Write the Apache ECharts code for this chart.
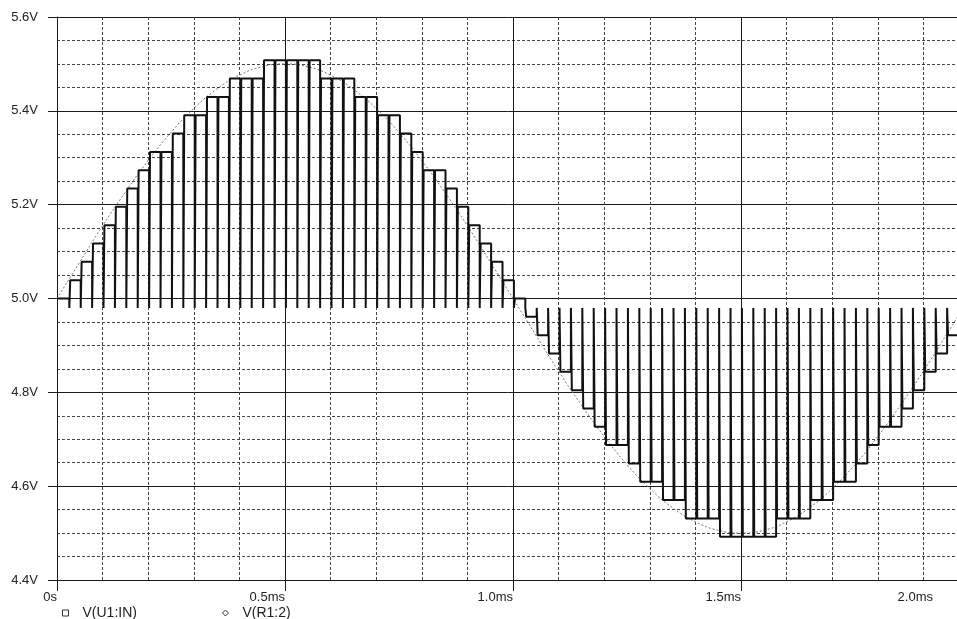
<!DOCTYPE html>
<html>
<head>
<meta charset="utf-8">
<script src="https://cdn.jsdelivr.net/npm/echarts@6/dist/echarts.min.js"></script>
<style>
  html, body { margin: 0; padding: 0; background: #fff; }
  #chart { width: 957px; height: 619px; }
</style>
</head>
<body>
<div id="chart"></div>
<script>
// sine input, read every 0.05ms (ms, V)
var sineTimes = [0, 0.05, 0.1, 0.15, 0.2, 0.25, 0.3, 0.35, 0.4, 0.45, 0.5, 0.55, 0.6, 0.65, 0.7, 0.75, 0.8, 0.85, 0.9, 0.95,
  1.0, 1.05, 1.1, 1.15, 1.2, 1.25, 1.3, 1.35, 1.4, 1.45, 1.5, 1.55, 1.6, 1.65, 1.7, 1.75, 1.8, 1.85, 1.9, 1.95, 2.0];
var sineValues = [5.000, 5.078, 5.155, 5.227, 5.294, 5.354, 5.405, 5.446, 5.476, 5.494, 5.500, 5.494, 5.476, 5.446, 5.405, 5.354, 5.294, 5.227, 5.155, 5.078,
  5.000, 4.922, 4.845, 4.773, 4.706, 4.646, 4.595, 4.554, 4.524, 4.506, 4.500, 4.506, 4.524, 4.554, 4.595, 4.646, 4.706, 4.773, 4.845, 4.922, 5.000];

// held output level after each sample (one per 0.025ms sample)
var stepLevels = [
  5.0000, 5.0391, 5.0781, 5.1172, 5.1563, 5.1953, 5.2344, 5.2734, 5.3125, 5.3125,
  5.3516, 5.3906, 5.3906, 5.4297, 5.4297, 5.4688, 5.4688, 5.4688, 5.5078, 5.5078,
  5.5078, 5.5078, 5.5078, 5.4688, 5.4688, 5.4688, 5.4297, 5.4297, 5.3906, 5.3906,
  5.3516, 5.3125, 5.2734, 5.2734, 5.2344, 5.1953, 5.1563, 5.1172, 5.0781, 5.0391,
  5.0000, 4.9609, 4.9219, 4.8828, 4.8438, 4.8047, 4.7656, 4.7266, 4.6875, 4.6875,
  4.6484, 4.6094, 4.6094, 4.5703, 4.5703, 4.5313, 4.5313, 4.5313, 4.4922, 4.4922,
  4.4922, 4.4922, 4.4922, 4.5313, 4.5313, 4.5313, 4.5703, 4.5703, 4.6094, 4.6094,
  4.6484, 4.6875, 4.7266, 4.7266, 4.7656, 4.8047, 4.8438, 4.8828, 4.9219, 4.9609
];
var samplePeriod = 0.025;  // ms
var sampleDelay = 0.002;   // ms, spike comes a bit after the clock
var spikeWidth = 0.002;    // ms
var resetLevel = 4.98;     // V, level every sample spike goes to

var xTicks = [0, 0.5, 1.0, 1.5, 2.0];
var xTickLabels = ['0s', '0.5ms', '1.0ms', '1.5ms', '2.0ms'];

var sineData = sineTimes.map(function (t, i) { return [t, sineValues[i]]; });

var stairData = [[0, stepLevels[0]]];
for (var k = 1; k < stepLevels.length; k++) {
  var t = k * samplePeriod + sampleDelay;
  stairData.push([t, stepLevels[k - 1]]);
  stairData.push([t, resetLevel]);
  stairData.push([t + spikeWidth, resetLevel]);
  stairData.push([t + spikeWidth, stepLevels[k]]);
}
stairData.push([2.0, stepLevels[stepLevels.length - 1]]);

var font = '"Liberation Sans", Arial, sans-serif';
var chart = echarts.init(document.getElementById('chart'));
chart.setOption({
  animation: false,
  backgroundColor: '#fff',
  textStyle: { fontFamily: font },
  // the plot runs past the right edge: 2.0ms sits just outside the picture
  grid: { left: 57, top: 17, width: 912, height: 563, containLabel: false, outerBoundsMode: 'none' },
  legend: {
    left: 62,
    top: 606,
    padding: 0,
    itemWidth: 6,
    itemHeight: 6,
    itemGap: 85,
    selectedMode: false,
    textStyle: { fontSize: 14, color: '#222', fontFamily: font, padding: [0, 0, 0, 9] },
    itemStyle: { color: '#fff', borderColor: '#333', borderWidth: 1 },
    data: [
      { name: 'V(U1:IN)', icon: 'rect' },
      { name: 'V(R1:2)', icon: 'diamond' }
    ]
  },
  xAxis: {
    type: 'value',
    min: 0,
    max: 2.0,
    interval: 0.5,
    axisLine: { show: true, onZero: false, lineStyle: { color: '#1a1a1a', width: 1 } },
    axisTick: { show: true, inside: false, length: 11, lineStyle: { color: '#1a1a1a' } },
    axisLabel: {
      margin: 11,
      align: 'right',
      verticalAlign: 'top',
      fontSize: 13,
      color: '#222',
      fontFamily: font,
      formatter: function (v) {
        var i = xTicks.indexOf(Math.round(v * 10) / 10);
        var s = i >= 0 ? xTickLabels[i] : '';
        return v >= 2 ? '{edge|' + s + '}' : s;
      },
      rich: { edge: { fontSize: 13, color: '#222', fontFamily: font, padding: [0, 36, 0, 0] } }
    },
    splitLine: { show: true, lineStyle: { color: '#1a1a1a', width: 1 } },
    minorTick: { show: false, splitNumber: 5 },
    minorSplitLine: { show: true, lineStyle: { color: '#444', width: 1, type: [3, 2] } }
  },
  yAxis: {
    type: 'value',
    min: 4.4,
    max: 5.6,
    interval: 0.2,
    axisLine: { show: true, onZero: false, lineStyle: { color: '#1a1a1a', width: 1 } },
    axisTick: { show: true, inside: false, length: 9, lineStyle: { color: '#1a1a1a' } },
    axisLabel: {
      margin: 19,
      fontSize: 13,
      color: '#222',
      fontFamily: font,
      formatter: function (v) { return v.toFixed(1) + 'V'; }
    },
    splitLine: { show: true, lineStyle: { color: '#1a1a1a', width: 1 } },
    minorTick: { show: false, splitNumber: 4 },
    minorSplitLine: { show: true, lineStyle: { color: '#444', width: 1, type: [3, 2] } }
  },
  series: [
    {
      name: 'V(U1:IN)',
      type: 'line',
      data: sineData,
      smooth: true,
      showSymbol: false,
      lineStyle: { color: '#777', width: 1, type: [2, 2] },
      itemStyle: { color: '#333' },
      z: 3
    },
    {
      name: 'V(R1:2)',
      type: 'line',
      data: stairData,
      showSymbol: false,
      lineStyle: { color: '#111', width: 2 },
      itemStyle: { color: '#333' },
      z: 4
    }
  ]
});
</script>
</body>
</html>
